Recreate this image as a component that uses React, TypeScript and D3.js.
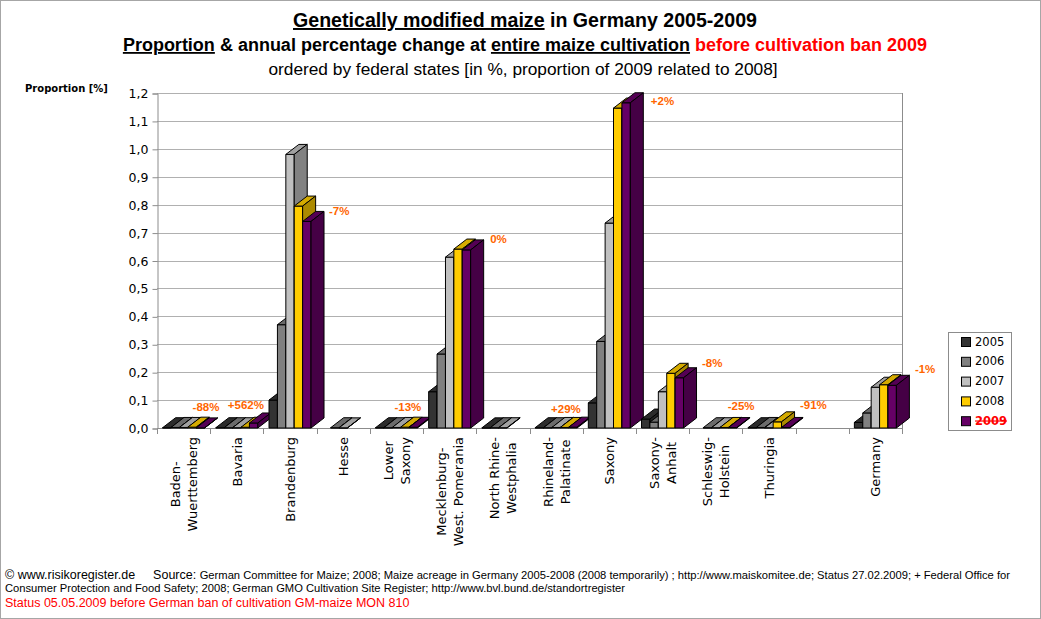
import { useEffect, useRef } from "react";
import * as d3 from "d3";

// ---- data ----
const categoryLines: string[][] = [
  ["Baden-", "Wuerttemberg"],
  ["Bavaria"],
  ["Brandenburg"],
  ["Hesse"],
  ["Lower", "Saxony"],
  ["Mecklenburg-", "West. Pomerania"],
  ["North Rhine-", "Westphalia"],
  ["Rhineland-", "Palatinate"],
  ["Saxony"],
  ["Saxony-", "Anhalt"],
  ["Schleswig-", "Holstein"],
  ["Thuringia"],
  [""],
  ["Germany"],
];
const categories = categoryLines.map((l, i) => `${i}:${l.join(" ")}`);

const years = ["2005", "2006", "2007", "2008", "2009"];
const v2005 = [0.001, 0.001, 0.1, null, 0.001, 0.13, 0.0005, 0.001, 0.09, 0.032, null, 0.001, null, 0.02];
const v2006 = [0.002, 0.001, 0.37, 0.001, 0.001, 0.265, 0.001, 0.001, 0.31, 0.021, 0.001, 0.002, null, 0.054];
const v2007 = [0.002, 0.001, 0.98, 0.0005, 0.002, 0.612, 0.001, 0.002, 0.734, 0.13, 0.001, 0.001, null, 0.146];
const v2008 = [0.003, 0.0027, 0.795, null, 0.003, 0.641, null, 0.002, 1.146, 0.196, 0.002, 0.022, null, 0.155];
const v2009 = [0.0004, 0.018, 0.74, null, 0.0026, 0.638, null, 0.003, 1.165, 0.18, 0.0015, 0.002, null, 0.153];
const seriesValues = [v2005, v2006, v2007, v2008, v2009];

const changeLabels = ["-88%", "+562%", "-7%", "", "-13%", "0%", "", "+29%", "+2%", "-8%", "-25%", "-91%", "", "-1%"];
const yTicks = d3.range(0, 13).map((i) => i / 10);

// ---- styling / layout ----
const frontColors = ["#333333", "#808080", "#C0C0C0", "#FFCC00", "#660066"];
// nudges of the change labels from the back-right corner of the 2009 column
const labelNudge: [number, number][] = [
  [-25, -10], [-43, -7], [5, 0.5], [0, 0], [-36, -9], [6.5, 0.5], [0, 0],
  [-39, -7], [7.5, 9], [5.5, -4], [-22, -10.5], [-3, -11], [0, 0], [5.5, -5.5],
];

const W = 1041;
const H = 619;
const DX = 13;
const DY = 10;

export default function App() {
  const svgRef = useRef<SVGSVGElement>(null);

  useEffect(() => {
    document.body.style.margin = "0";
    if (!svgRef.current) return;
    const svg = d3.select(svgRef.current);
    svg.selectAll("*").remove();

    const x = d3.scaleBand<string>().domain(categories).range([157, 902]);
    const xs = d3.scaleBand<string>().domain(years).range([5.6, 47.6]);
    const y = d3.scaleLinear().domain([0, 1.2]).range([428, 93]);

    // border
    svg.append("rect").attr("x", 0.5).attr("y", 0.5).attr("width", W - 1).attr("height", H - 1)
      .attr("fill", "#fff").attr("stroke", "#a6a6a6");

    // titles
    const t1 = svg.append("text").attr("x", 525).attr("y", 27).attr("text-anchor", "middle")
      .attr("font-family", "Liberation Sans, Arial, sans-serif").attr("font-weight", "bold").attr("font-size", 19.6);
    t1.append("tspan").attr("text-decoration", "underline").text("Genetically modified maize");
    t1.append("tspan").text(" in Germany 2005-2009");

    const t2 = svg.append("text").attr("x", 525).attr("y", 51).attr("text-anchor", "middle")
      .attr("font-family", "Liberation Sans, Arial, sans-serif").attr("font-weight", "bold").attr("font-size", 18);
    t2.append("tspan").attr("text-decoration", "underline").text("Proportion");
    t2.append("tspan").text(" & annual percentage change at ");
    t2.append("tspan").attr("text-decoration", "underline").text("entire maize cultivation");
    t2.append("tspan").text(" ");
    t2.append("tspan").attr("fill", "#FF0000").text("before cultivation ban 2009");

    svg.append("text").attr("x", 523).attr("y", 75).attr("text-anchor", "middle")
      .attr("font-family", "Liberation Sans, Arial, sans-serif").attr("font-size", 17.3)
      .text("ordered by federal states [in %, proportion of 2009 related to 2008]");

    // axis title
    svg.append("text").attr("x", 25).attr("y", 92)
      .attr("font-family", "DejaVu Sans, sans-serif").attr("font-weight", "bold").attr("font-size", 10)
      .text("Proportion [%]");

    // gridlines
    svg.append("g").selectAll("line").data(yTicks).join("line")
      .attr("x1", 157).attr("x2", 902)
      .attr("y1", (d) => Math.round(y(d)) + 0.5).attr("y2", (d) => Math.round(y(d)) + 0.5)
      .attr("stroke", "#b0b0b0");

    // y axis
    const yAxis = d3.axisLeft(y).tickValues(yTicks).tickSize(5).tickPadding(4)
      .tickFormat((d) => d3.format(".1f")(d as number).replace(".", ","));
    svg.append("g").attr("transform", "translate(157.5,0.5)").call(yAxis)
      .call((g) => g.select(".domain").attr("stroke", "#8c8c8c"))
      .call((g) => g.selectAll(".tick line").attr("stroke", "#8c8c8c"))
      .call((g) => g.selectAll(".tick text").attr("font-family", "DejaVu Sans, sans-serif")
        .attr("font-size", 12.5).attr("fill", "#000"));

    // right boundary
    svg.append("line").attr("x1", 902.5).attr("x2", 902.5).attr("y1", y(1.2)).attr("y2", y(0))
      .attr("stroke", "#8c8c8c");

    // x axis
    svg.append("line").attr("x1", 157).attr("x2", 902.5).attr("y1", 428.5).attr("y2", 428.5).attr("stroke", "#8c8c8c");
    svg.append("g").selectAll("line").data(d3.range(categories.length + 1)).join("line")
      .attr("x1", (i) => Math.round(157 + i * x.bandwidth()) + 0.5)
      .attr("x2", (i) => Math.round(157 + i * x.bandwidth()) + 0.5)
      .attr("y1", 428).attr("y2", 434).attr("stroke", "#8c8c8c");

    // category labels
    const lab = svg.append("g").attr("font-family", "DejaVu Sans, sans-serif").attr("font-size", 13);
    categoryLines.forEach((lines, i) => {
      const cx = (x(categories[i]) ?? 0) + x.bandwidth() / 2;
      const texts = lines.map((ln, k) => {
        const bx = cx + 5 + (k - (lines.length - 1) / 2) * 17;
        return lab.append("text").attr("transform", `translate(${bx},0) rotate(-90)`)
          .attr("text-anchor", "middle").text(ln);
      });
      const maxLen = d3.max(texts, (t) => (t.node() as SVGTextElement).getComputedTextLength()) ?? 0;
      texts.forEach((t) => t.attr("x", -(437 + maxLen / 2)));
    });

    // 3D columns
    const bars = svg.append("g").attr("stroke", "#000").attr("stroke-width", 1).attr("stroke-linejoin", "round");
    categories.forEach((c, i) => {
      years.forEach((yr, j) => {
        const v = seriesValues[j][i];
        if (v === null || v === undefined) return;
        const x0 = (x(c) ?? 0) + (xs(yr) ?? 0);
        const x1 = x0 + xs.bandwidth();
        const yt = y(v);
        const yb = y(0);
        const base = d3.color(frontColors[j])!;
        const top = d3.rgb(base).darker(0.5).formatHex();
        const side = d3.rgb(base).darker(1.1).formatHex();
        // front
        bars.append("path").attr("d", `M${x0},${yb}L${x0},${yt}L${x1},${yt}L${x1},${yb}Z`).attr("fill", frontColors[j]);
        // top
        bars.append("path")
          .attr("d", `M${x0},${yt}L${x0 + DX},${yt - DY}L${x1 + DX},${yt - DY}L${x1},${yt}Z`).attr("fill", top);
        // side
        bars.append("path")
          .attr("d", `M${x1},${yt}L${x1 + DX},${yt - DY}L${x1 + DX},${yb - DY}L${x1},${yb}Z`).attr("fill", side);
      });
    });

    // change labels
    svg.append("g").attr("font-family", "Liberation Sans, Arial, sans-serif").attr("font-weight", "bold")
      .attr("font-size", 11.5).attr("fill", "#FF6600")
      .selectAll("text").data(changeLabels.map((t, i) => ({ t, i })).filter((d) => d.t !== "")).join("text")
      .attr("x", (d) => (x(categories[d.i]) ?? 0) + (xs("2009") ?? 0) + xs.bandwidth() + DX + labelNudge[d.i][0])
      .attr("y", (d) => y(v2009[d.i] ?? 0) - DY + labelNudge[d.i][1])
      .attr("dominant-baseline", "middle")
      .text((d) => d.t);

    // legend
    const lg = svg.append("g").attr("transform", "translate(948,332)");
    lg.append("rect").attr("x", 0.5).attr("y", 0.5).attr("width", 63).attr("height", 98)
      .attr("fill", "#fff").attr("stroke", "#8c8c8c");
    years.forEach((yr, j) => {
      const cy = 10 + j * 19.8;
      lg.append("rect").attr("x", 13.5).attr("y", cy - 4.5).attr("width", 9).attr("height", 9)
        .attr("fill", frontColors[j]).attr("stroke", "#000");
      const t = lg.append("text").attr("x", 27).attr("y", cy).attr("dominant-baseline", "middle")
        .attr("font-family", "DejaVu Sans, sans-serif").attr("font-size", 11.5).text(yr);
      if (j === 4) t.attr("fill", "#FF0000").attr("font-weight", "bold").attr("text-decoration", "line-through");
    });

    // footer
    const f1 = svg.append("text").attr("x", 5).attr("y", 579).attr("font-family", "Liberation Sans, Arial, sans-serif");
    f1.append("tspan").attr("font-size", 12.5).text("© www.risikoregister.de");
    f1.append("tspan").attr("font-size", 12.5).attr("dx", 18).text("Source: ");
    f1.append("tspan").attr("font-size", 11.2)
      .text("German Committee for Maize; 2008; Maize acreage in Germany 2005-2008 (2008 temporarily) ; http://www.maiskomitee.de; Status 27.02.2009; + Federal Office for");
    svg.append("text").attr("x", 5).attr("y", 592).attr("font-family", "Liberation Sans, Arial, sans-serif").attr("font-size", 11.2)
      .text("Consumer Protection and Food Safety; 2008; German GMO Cultivation Site Register; http://www.bvl.bund.de/standortregister");
    svg.append("text").attr("x", 5).attr("y", 607).attr("font-family", "Liberation Sans, Arial, sans-serif").attr("font-size", 12.5)
      .attr("fill", "#FF0000")
      .text("Status 05.05.2009 before German ban of cultivation GM-maize MON 810");
  }, []);

  return <svg ref={svgRef} width={W} height={H} style={{ display: "block" }} />;
}
